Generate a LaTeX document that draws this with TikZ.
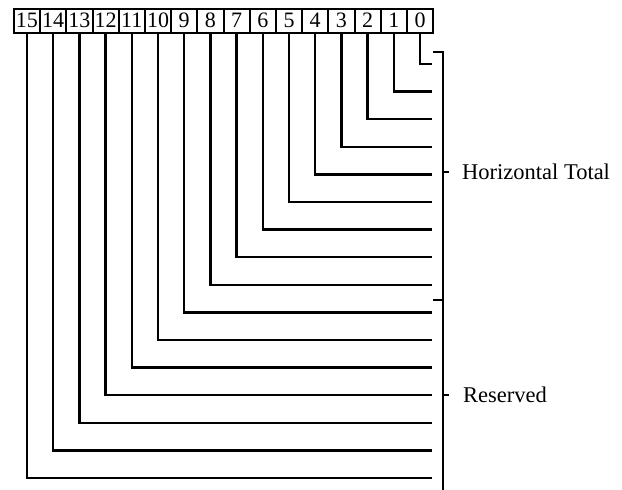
\documentclass[tikz,border=0pt]{standalone}
\usepackage{fontspec}
\setmainfont{Liberation Serif}
\begin{document}
\begin{tikzpicture}[x=1pt,y=-1pt, line width=2.4pt,
  bitbox/.style={draw, line width=2pt, minimum width=26.2pt, minimum height=24pt,
    inner sep=0pt, font=\fontsize{22}{22}\selectfont},
  lbl/.style={anchor=west, font=\fontsize{22.5}{24}\selectfont, inner sep=0pt}]
\useasboundingbox (0,0) rectangle (622,490);
\foreach \i in {0,...,15} {
  \node[bitbox] (b\i) at ({420-26.2*\i},20.5) {\i};
  \coordinate (e\i) at (432,{64+27.6*\i});
  \draw (b\i.south) |- (e\i);
}
% bracket
\coordinate (btl) at (433,52);
\coordinate (bt) at (443,52);
\coordinate (bb) at (443,490);
\coordinate (bml) at (433,300);
\coordinate (bm) at (443,300);
\coordinate (h) at (443,172);
\coordinate (hx) at (449,172);
\coordinate (r) at (443,395);
\coordinate (rx) at (449,395);
\draw (btl) -- (bt) -- (bb);
\draw (bml) -- (bm);
\draw (h) -- (hx);
\draw (r) -- (rx);
\node[lbl] (ht) at (461,172) {Horizontal Total};
\node[lbl] (rs) at (462,395) {Reserved};
\end{tikzpicture}
\end{document}
